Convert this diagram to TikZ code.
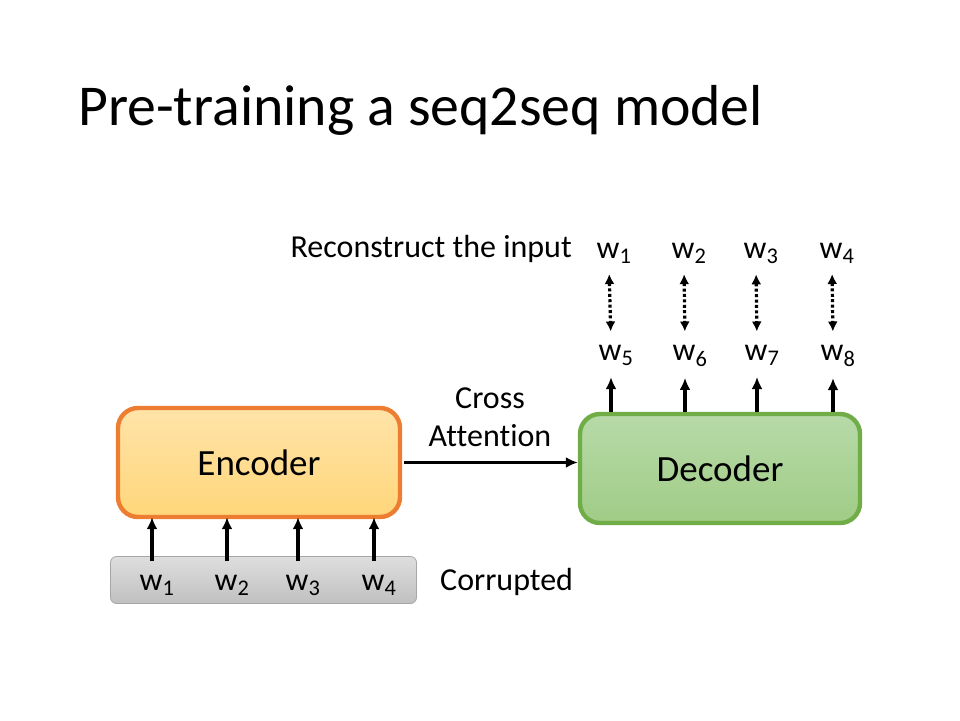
\documentclass[tikz,border=0pt]{standalone}
\usepackage{fontspec}
\setmainfont{Carlito}[Ligatures=NoCommon]
\usetikzlibrary{arrows,arrows.meta,positioning}

\definecolor{encline}{RGB}{237,125,49}
\definecolor{enctop}{RGB}{255,227,168}
\definecolor{encbot}{RGB}{255,214,122}
\definecolor{decline}{RGB}{112,173,71}
\definecolor{dectop}{RGB}{183,218,168}
\definecolor{decbot}{RGB}{160,204,134}
\definecolor{greyline}{RGB}{166,166,166}
\definecolor{greytop}{RGB}{222,222,222}
\definecolor{greybot}{RGB}{192,192,192}

\begin{document}
\begin{tikzpicture}[x=1pt,y=1pt]
    \tikzstyle{every node}+=[inner sep=0pt]
    \tikzstyle{titletxt}=[font=\fontsize{57.8}{70}\selectfont]
    \tikzstyle{txt}=[font=\fontsize{32}{38}\selectfont]
    \tikzstyle{word}=[font=\fontsize{32}{38}\selectfont, inner sep=2pt, anchor=base]
    \tikzstyle{block}=[rounded corners=20pt, line width=4.4pt, font=\fontsize{37}{44}\selectfont]
    \tikzstyle{uparr}=[-{Latex[length=12pt,width=11pt]}, line width=3.2pt]
    \tikzstyle{dotarr}=[{Latex[length=10pt,width=10pt]}-{Latex[length=10pt,width=10pt]}, line width=3.2pt, dash pattern=on 3pt off 2.4pt]
    \fill [white] (0,0) rectangle (960,-720);
    \useasboundingbox (0,0) rectangle (960,-720);
    % title
    \node [titletxt, anchor=base west] (title) at (78,-125) {Pre-training a seq2seq model};
    % encoder side
    \node [block, draw=encline, top color=enctop, bottom color=encbot,
           minimum width=282pt, minimum height=109pt] (enc) at (259,-462.5) {Encoder};
    \node [draw=greyline, line width=0.8pt, rounded corners=6pt, top color=greytop, bottom color=greybot,
           minimum width=306pt, minimum height=47pt] (grey) at (263.5,-580) {};
    \node [word] (i1) at (157,-590) {w\textsubscript{1}};
    \node [word] (i2) at (232,-590) {w\textsubscript{2}};
    \node [word] (i3) at (303,-590) {w\textsubscript{3}};
    \node [word] (i4) at (379,-590) {w\textsubscript{4}};
    \node [txt, anchor=base west] (corrupt) at (440,-590) {Corrupted};
    \draw [uparr, shorten <=11pt, shorten >=-2pt] ([xshift=-5pt]i1.north) -- ([xshift=-5pt]i1.north |- enc.south);
    \draw [uparr, shorten <=11pt, shorten >=-2pt] ([xshift=-5pt]i2.north) -- ([xshift=-5pt]i2.north |- enc.south);
    \draw [uparr, shorten <=11pt, shorten >=-2pt] ([xshift=-5pt]i3.north) -- ([xshift=-5pt]i3.north |- enc.south);
    \draw [uparr, shorten <=11pt, shorten >=-2pt] ([xshift=-5pt]i4.north) -- ([xshift=-5pt]i4.north |- enc.south);
    % decoder side
    \node [block, draw=decline, top color=dectop, bottom color=decbot,
           minimum width=280pt, minimum height=109pt] (dec) at (720,-468.5) {Decoder};
    \draw [uparr, shorten <=2pt] (enc.east) -- (enc.east -| dec.west);
    \node [txt, anchor=base] (cross) at (490,-408) {Cross};
    \node [txt, anchor=base] (attn) at (490,-446) {Attention};
    % decoder outputs
    \node [word] (b5) at (616,-360) {w\textsubscript{5}};
    \node [word] (b6) at (690,-360) {w\textsubscript{6}};
    \node [word] (b7) at (762,-360) {w\textsubscript{7}};
    \node [word] (b8) at (838,-360) {w\textsubscript{8}};
    \draw [uparr, shorten >=9pt] ([xshift=-5pt]b5.south |- dec.north) -- ([xshift=-5pt]b5.south);
    \draw [uparr, shorten >=9pt] ([xshift=-5pt]b6.south |- dec.north) -- ([xshift=-5pt]b6.south);
    \draw [uparr, shorten >=9pt] ([xshift=-5pt]b7.south |- dec.north) -- ([xshift=-5pt]b7.south);
    \draw [uparr, shorten >=9pt] ([xshift=-5pt]b8.south |- dec.north) -- ([xshift=-5pt]b8.south);
    % reconstructed input
    \node [txt, anchor=base east] (recon) at (572,-257) {Reconstruct the input};
    \node [word] (t1) at (614,-258) {w\textsubscript{1}};
    \node [word] (t2) at (689,-258) {w\textsubscript{2}};
    \node [word] (t3) at (761,-258) {w\textsubscript{3}};
    \node [word] (t4) at (837,-258) {w\textsubscript{4}};
    \draw [dotarr, shorten <=8pt, shorten >=11pt] ([xshift=-5pt]t1.south) -- ([xshift=-5pt]b5.north);
    \draw [dotarr, shorten <=8pt, shorten >=11pt] ([xshift=-5pt]t2.south) -- ([xshift=-5pt]b6.north);
    \draw [dotarr, shorten <=8pt, shorten >=11pt] ([xshift=-5pt]t3.south) -- ([xshift=-5pt]b7.north);
    \draw [dotarr, shorten <=8pt, shorten >=11pt] ([xshift=-5pt]t4.south) -- ([xshift=-5pt]b8.north);
\end{tikzpicture}
\end{document}
